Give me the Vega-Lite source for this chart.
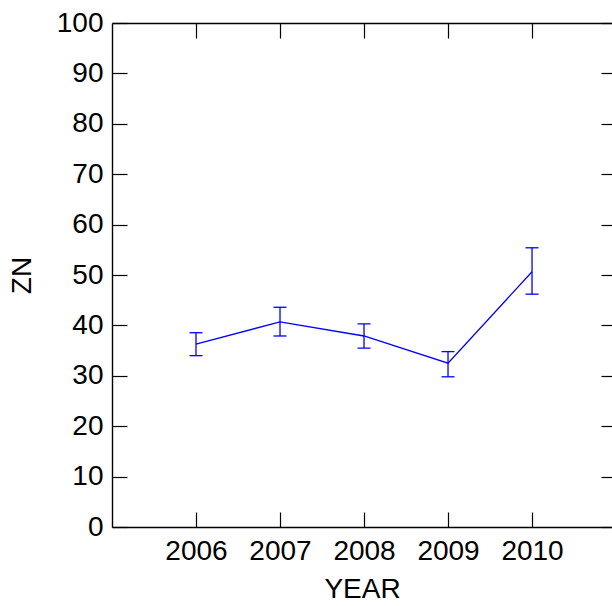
{
  "$schema": "https://vega.github.io/schema/vega-lite/v6.json",
  "autosize": {"type": "none"},
  "padding": {"left": 112, "top": 23, "right": 0, "bottom": 79},
  "width": 500,
  "height": 504,
  "background": "white",
  "config": {
    "view": {"stroke": null},
    "font": "Liberation Sans",
    "axis": {
      "grid": false,
      "labelFont": "Liberation Sans",
      "labelFontSize": 28,
      "labelColor": "black",
      "titleFont": "Liberation Sans",
      "titleFontSize": 28,
      "titleFontWeight": "normal",
      "titleColor": "black",
      "domainColor": "black",
      "domainWidth": 1.4,
      "tickColor": "black",
      "tickWidth": 1.2,
      "tickSize": -15
    }
  },
  "data": {
    "values": [
      {"year": 2006, "zn": 36.3, "lo": 34.0, "hi": 38.55},
      {"year": 2007, "zn": 40.7, "lo": 37.9, "hi": 43.6},
      {"year": 2008, "zn": 37.9, "lo": 35.5, "hi": 40.3},
      {"year": 2009, "zn": 32.5, "lo": 29.8, "hi": 34.8},
      {"year": 2010, "zn": 50.65, "lo": 46.2, "hi": 55.4}
    ]
  },
  "resolve": {"axis": {"x": "independent", "y": "independent"}},
  "layer": [
    {
      "mark": {"type": "line", "color": "#0000ff", "strokeWidth": 1.3},
      "encoding": {
        "x": {
          "field": "year", "type": "quantitative",
          "scale": {"domain": [2005, 2010.952], "nice": false, "zero": false},
          "axis": {"orient": "bottom", "title": "YEAR", "values": [2006, 2007, 2008, 2009, 2010], "format": "d", "labelPadding": 25, "titlePadding": 10}
        },
        "y": {
          "field": "zn", "type": "quantitative",
          "scale": {"domain": [0, 100], "nice": false},
          "axis": {"orient": "left", "title": "ZN", "values": [0, 10, 20, 30, 40, 50, 60, 70, 80, 90, 100], "labelPadding": 24, "titlePadding": 20}
        }
      }
    },
    {
      "mark": {
        "type": "errorbar",
        "orient": "vertical",
        "color": "#0000ff",
        "opacity": 1,
        "ticks": {"size": 13, "thickness": 1.3, "color": "#0000ff", "opacity": 1},
        "rule": {"strokeWidth": 1.3, "color": "#0000ff", "opacity": 1}
      },
      "encoding": {
        "x": {
          "field": "year", "type": "quantitative",
          "axis": {"orient": "top", "title": null, "values": [2006, 2007, 2008, 2009, 2010], "labels": false}
        },
        "y": {
          "field": "lo", "type": "quantitative",
          "axis": {"orient": "right", "title": null, "values": [0, 10, 20, 30, 40, 50, 60, 70, 80, 90, 100], "labels": false, "domain": false, "tickSize": -11}
        },
        "y2": {"field": "hi"}
      }
    }
  ]
}
